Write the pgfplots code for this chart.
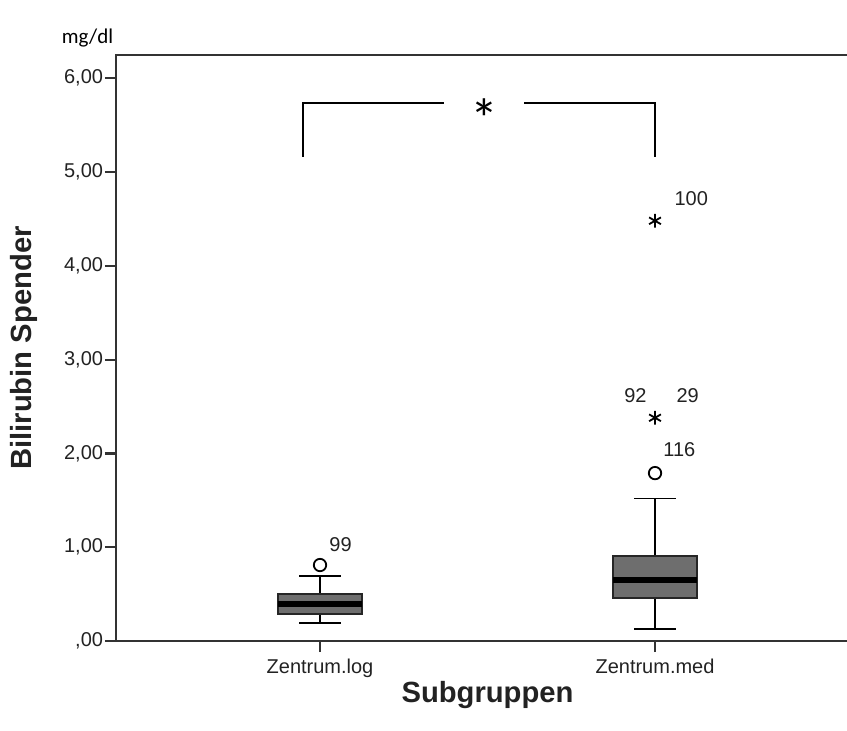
\documentclass[border=0pt]{standalone}
\usepackage{pgfplots}
\pgfplotsset{compat=1.18}
\usepgfplotslibrary{statistics}
\usepackage{fontspec}
\setmainfont{Liberation Sans}
\newfontfamily\calibri{Carlito}

\definecolor{boxfill}{HTML}{6E6E6E}
\definecolor{axisgray}{HTML}{333333}
\definecolor{labelgray}{HTML}{222222}

\begin{document}
\begin{tikzpicture}
\begin{axis}[
  x=167.5pt, y=46.9pt,
  xmin=0.391, xmax=2.6,
  ymin=0, ymax=6.247,
  clip=false,
  axis line style={axisgray, line width=1.4pt},
  tick pos=left,
  tick align=outside,
  major tick length=5.5pt,
  tick style={axisgray, line width=1.1pt},
  xtick={1,2},
  xticklabels={Zentrum.log, Zentrum.med},
  ytick={0,1,2,3,4,5,6},
  yticklabels={{,00},{1,00},{2,00},{3,00},{4,00},{5,00},{6,00}},
  ticklabel style={font=\fontsize{10}{12}\selectfont, text=labelgray},
  yticklabel style={inner xsep=0.8pt},
  boxplot/draw direction=y,
  boxplot/every box/.style={draw=black!85, line width=0.8pt},
  boxplot/every median/.style={black, line width=3pt},
  boxplot/every whisker/.style={black, line width=0.9pt},
]
\coordinate (o) at (axis cs:0.391,0);

% Zentrum.log
\addplot[draw=black!85, fill=boxfill,
  mark=o, mark size=3.1pt, mark options={black, fill=white, line width=0.9pt},
  boxplot prepared={draw position=1,
    lower whisker=0.19, lower quartile=0.29, median=0.39,
    upper quartile=0.50, upper whisker=0.69,
    box extend=0.25, whisker extend=0.123}]
  coordinates {(0,0.81)};

% Zentrum.med
\addplot[draw=black!85, fill=boxfill,
  mark=o, mark size=3.1pt, mark options={black, fill=white, line width=0.9pt},
  boxplot prepared={draw position=2,
    lower whisker=0.13, lower quartile=0.458, median=0.65,
    upper quartile=0.906, upper whisker=1.52,
    box extend=0.25, whisker extend=0.123}]
  coordinates {(0,1.79)};

% extreme values
\addplot[only marks, mark=asterisk, mark size=3.4pt,
  mark options={black, line width=0.9pt}]
  coordinates {(2,2.38) (2,4.48)};

% case numbers
\node[anchor=west, font=\fontsize{10}{12}\selectfont, text=labelgray, inner sep=0pt] at (axis cs:1.027,1.03) {99};
\node[anchor=west, font=\fontsize{10}{12}\selectfont, text=labelgray, inner sep=0pt] at (axis cs:2.024,2.04) {116};
\node[anchor=west, font=\fontsize{10}{12}\selectfont, text=labelgray, inner sep=0pt] at (axis cs:1.907,2.617) {92};
\node[anchor=west, font=\fontsize{10}{12}\selectfont, text=labelgray, inner sep=0pt] at (axis cs:2.063,2.617) {29};
\node[anchor=west, font=\fontsize{10}{12}\selectfont, text=labelgray, inner sep=0pt] at (axis cs:2.057,4.72) {100};

% significance bracket
\addplot[black, line width=1pt] coordinates {(0.95,5.16) (0.95,5.74) (1.37,5.74)};
\addplot[black, line width=1pt] coordinates {(1.61,5.74) (2.0,5.74) (2.0,5.16)};
\node[anchor=base, font=\calibri\fontsize{28}{28}\selectfont, inner sep=0pt] at (axis cs:1.49,5.36) {*};

% axis titles
\node[anchor=base west, font=\calibri\fontsize{10.5}{13}\selectfont, inner sep=0pt] at (axis cs:0.228,6.37) {mg/dl};
\node[rotate=90, anchor=center, font=\bfseries\fontsize{14.6}{16}\selectfont, text=labelgray] at (axis cs:0.117,3.124) {Bilirubin Spender};
\node[anchor=base, font=\bfseries\fontsize{14.6}{16}\selectfont, text=labelgray, inner sep=0pt] at (axis cs:1.5,-0.66) {Subgruppen};
\end{axis}
\pgfresetboundingbox
\path[use as bounding box] ([shift={(-58pt,-44.5pt)}]o) rectangle ([shift={(365.5pt,320.5pt)}]o);
\end{tikzpicture}
\end{document}
